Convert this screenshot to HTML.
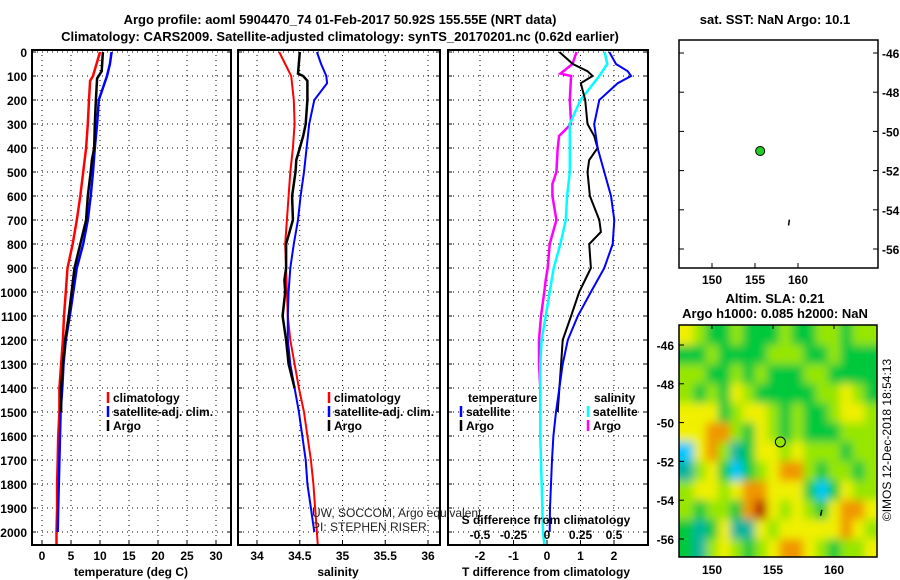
<!DOCTYPE html>
<html><head><meta charset="utf-8"><style>
body{margin:0;background:#fff}
svg{display:block;font-family:"Liberation Sans",sans-serif}
.t{font-weight:bold;font-size:13px}
.tk{font-weight:bold;font-size:12px}
.nb{font-size:12px;font-weight:normal}
</style></head><body>
<svg id="s" width="900" height="580" viewBox="0 0 900 580" xmlns="http://www.w3.org/2000/svg">
<defs>
<filter id="blur" x="-5%" y="-5%" width="110%" height="110%"><feGaussianBlur stdDeviation="4.5"/></filter>
<clipPath id="mapclip"><rect x="679" y="325" width="198" height="232"/></clipPath>
</defs>
<text class="t" x="340" y="24" text-anchor="middle">Argo profile: aoml 5904470_74 01-Feb-2017 50.92S 155.55E (NRT data)</text>
<text class="t" x="340" y="41" text-anchor="middle">Climatology: CARS2009. Satellite-adjusted climatology: synTS_20170201.nc (0.62d earlier)</text>
<g id="g"></g>
</svg>
<script>
// ---- data ----
const depthsTC=[0,100,120,200,300,400,500,600,700,800,900,1000,1100,1200,1300,1400,1500,1600,1700,1800,1900,2000,2050];
const tempClim=[10,8.8,8.3,8.1,7.9,7.6,7.1,6.6,6.0,5.3,4.4,4.1,3.8,3.6,3.3,3.0,3.0,2.8,2.7,2.6,2.6,2.5,2.5];
const depthsTA=[0,80,110,200,300,400,450,500,600,700,800,900,1000,1100,1200,1300,1400,1500];
const tempArgo=[10.5,10.3,9.5,9.3,9.1,9.0,8.6,8.4,7.9,7.6,6.6,5.6,5.1,4.6,4.0,3.6,3.3,3.3];
const depthsTS=[0,50,100,150,200,300,400,500,600,700,800,900,1000,1100,1200,1300,1400,1500,1600,1700,1800,1900,2000];
const tempSat=[12.0,11.7,11.2,10.5,9.8,9.5,9.1,8.8,8.4,7.9,7.1,6.0,5.4,4.8,4.1,3.7,3.5,3.2,3.1,3.0,2.9,2.8,2.7];
const depthsSC=[0,100,200,300,400,500,600,700,800,900,1000,1100,1200,1300,1400,1500,1600,1700,1800,1900,2000,2050];
const salClim=[34.26,34.40,34.43,34.44,34.42,34.39,34.37,34.35,34.33,34.34,34.35,34.36,34.39,34.44,34.49,34.55,34.59,34.63,34.66,34.68,34.70,34.71];
const depthsSA=[0,90,100,120,200,300,350,400,450,500,600,700,800,900,950,1000,1100,1200,1300,1400];
const salArgo=[34.50,34.48,34.54,34.59,34.59,34.57,34.54,34.50,34.46,34.45,34.41,34.42,34.34,34.34,34.32,34.33,34.30,34.34,34.37,34.44];
const depthsSS=[0,50,100,130,200,300,400,500,600,700,800,900,1000,1100,1200,1300,1400,1500,1600,1700,1800,1900,2000];
const salSat=[34.70,34.75,34.81,34.82,34.67,34.61,34.58,34.55,34.51,34.48,34.43,34.39,34.37,34.36,34.36,34.39,34.44,34.49,34.53,34.57,34.59,34.63,34.67];
const depthsDTA=[0,50,80,100,130,200,300,350,400,450,500,600,700,750,800,900,1000,1100,1200,1300,1400,1500];
const dTArgo=[0.37,0.77,1.21,1.36,1.01,1.14,1.21,1.41,1.51,1.26,1.21,1.28,1.56,1.61,1.26,1.31,0.96,0.72,0.47,0.42,0.37,0.32];
const depthsDTS=[0,50,80,100,130,200,300,400,500,600,700,800,900,1000,1100,1200,1300,1400,1500,1600,1700,1800,1900,2000];
const dTSat=[1.86,2.06,2.41,2.51,2.11,1.56,1.41,1.51,1.71,1.91,2.01,1.96,1.71,1.31,0.92,0.62,0.47,0.37,0.27,0.19,0.15,0.12,0.09,0.08];
const depthsDSS=[0,50,100,200,300,400,500,600,700,800,900,1000,1100,1200,1300,1400,1500,1600,2000,2050];
const dSSat=[0.43,0.45,0.39,0.25,0.17,0.17,0.17,0.15,0.14,0.10,0.05,0.02,-0.01,-0.04,-0.05,-0.05,-0.05,-0.05,-0.03,-0.02];
const depthsDSA=[0,50,90,100,200,300,350,400,500,550,600,700,800,900,950,1000,1100,1200,1300,1400,1500];
const dSArgo=[0.22,0.19,0.10,0.18,0.17,0.18,0.09,0.08,0.07,0.04,0.04,0.07,0.02,0.005,-0.01,-0.02,-0.045,-0.06,-0.06,-0.05,-0.05];
const depthTicks=[0,100,200,300,400,500,600,700,800,900,1000,1100,1200,1300,1400,1500,1600,1700,1800,1900,2000];
const tempTicks=[0,5,10,15,20,25,30];
const salTicks=[34,34.5,35,35.5,36];
const salTickLabels=["34","34.5","35","35.5","36"];
const dTTicks=[-2,-1,0,1,2];
const dSTicks=[-0.5,-0.25,0,0.25,0.5];
const dSTickLabels=["-0.5","-0.25","0","0.25","0.5"];
const latTicks=[-46,-48,-50,-52,-54,-56];
const lonTicks=[150,155,160];
const floatPos=[155.6,-51.0];
const trackPos=[[159.0,-54.5],[158.9,-54.8]];
const slaGrid=[
[4,3,2,2,3,2,2,2,3,2,2,3,3,2,3,3],
[2,2,3,2,2,2,2,3,3,3,2,2,3,2,2,2],
[3,3,2,2,3,2,3,2,2,2,3,3,2,2,2,2],
[3,2,3,2,4,3,2,2,2,2,2,3,3,4,3,2],
[4,4,4,2,3,4,4,3,2,3,2,2,3,4,4,3],
[4,4,5,5,3,2,4,3,2,3,2,2,2,3,3,3],
[0,4,5,3,1,2,4,4,3,4,3,3,3,2,3,3],
[1,3,4,2,0,2,3,4,5,5,3,2,3,3,2,3],
[3,4,4,3,4,5,5,4,4,4,2,0,2,4,3,3],
[3,2,3,3,2,5,6,4,3,4,3,2,4,5,5,4],
[2,1,2,4,1,1,4,3,4,4,4,4,4,5,4,3],
[2,1,3,4,3,2,3,4,5,5,4,3,2,3,3,4]];
const slaLats=[-45.5,-46.5,-47.5,-48.5,-49.5,-50.5,-51.5,-52.5,-53.5,-54.5,-55.5,-56.5];
const slaLons=[148,149,150,151,152,153,154,155,156,157,158,159,160,161,162,163];

// ---- drawing ----
const NS="http://www.w3.org/2000/svg";
const G=document.getElementById('g');
function el(tag,attrs,parent){const e=document.createElementNS(NS,tag);for(const k in attrs)e.setAttribute(k,attrs[k]);(parent||G).appendChild(e);return e;}
function txt(x,y,s,cls,anchor,parent){const e=el('text',{x:x,y:y,'class':cls||'tk','text-anchor':anchor||'middle'},parent);e.textContent=s;return e;}
const yD=d=>52+0.24*d;
const TOP=50,BOT=545;
const xT=v=>42+5.8*v;
const xS=v=>257+85.5*(v-34);
const xDT=v=>547+33.5*v;
const xDS=v=>547+134*v;
const panels=[{x0:32,x1:231,name:'temperature-panel'},{x0:238,x1:440,name:'salinity-panel'},{x0:448,x1:648,name:'difference-panel'}];

function grid(p,xs){
  const g=el('g',{});
  
  
  depthTicks.forEach(d=>{el('line',{x1:p.x0,x2:p.x1,y1:yD(d),y2:yD(d),stroke:'#000','stroke-dasharray':'1,4','stroke-width':1},g);
    el('line',{x1:p.x0,x2:p.x0+4,y1:yD(d),y2:yD(d),stroke:'#000'},g);el('line',{x1:p.x1-4,x2:p.x1,y1:yD(d),y2:yD(d),stroke:'#000'},g);});
  xs.forEach(x=>{el('line',{x1:x,x2:x,y1:TOP,y2:BOT,stroke:'#000','stroke-dasharray':'1,4','stroke-width':1},g);
    el('line',{x1:x,x2:x,y1:BOT-5,y2:BOT,stroke:'#000'},g);});
}
function frame(p){const r=el('rect',{x:p.x0,y:TOP,width:p.x1-p.x0,height:BOT-TOP,fill:'none',stroke:'#000','stroke-width':2});
  }
function line(ds,vs,fx,color,name,w){
  const pts=ds.map((d,i)=>fx(vs[i]).toFixed(1)+','+yD(d).toFixed(1)).join(' ');
  const l=el('polyline',{points:pts,fill:'none',stroke:color,'stroke-width':w||2.5,'stroke-linejoin':'miter'});
  
  
}
// panel 1
grid(panels[0],tempTicks.map(xT));
line(depthsTC,tempClim,xT,'#f00','temp-climatology-line');
line(depthsTS,tempSat,xT,'#00f','temp-satellite-line');
line(depthsTA,tempArgo,xT,'#000','temp-argo-line');
frame(panels[0]);
depthTicks.forEach(d=>{const t=txt(27,yD(d)+5,String(d),'tk','end');});
tempTicks.forEach(v=>{const t=txt(xT(v),560,String(v));});
let at=txt(131,576,'temperature (deg C)');
// panel 2
grid(panels[1],salTicks.map(xS));
line(depthsSC,salClim,xS,'#f00','sal-climatology-line',2);
line(depthsSS,salSat,xS,'#00f','sal-satellite-line',2);
line(depthsSA,salArgo,xS,'#000','sal-argo-line',2.5);
frame(panels[1]);
salTicks.forEach((v,i)=>{const t=txt(xS(v),560,salTickLabels[i]);});
at=txt(338,576,'salinity');
// panel 3
grid(panels[2],dTTicks.map(xDT));
line(depthsDSA,dSArgo,xDS,'#f0f','dsal-argo-line',2.5);
line(depthsDSS,dSSat,xDS,'#0ff','dsal-satellite-line',2.5);
line(depthsDTA,dTArgo,xDT,'#000','dtemp-argo-line',2);
line(depthsDTS,dTSat,xDT,'#00f','dtemp-satellite-line',2);
frame(panels[2]);
dTTicks.forEach(v=>{const t=txt(xDT(v),560,String(v));});
dSTicks.forEach((v,i)=>{const t=txt(xDS(v),539,dSTickLabels[i]);});
at=txt(546,524,'S difference from climatology');
at=txt(546,576,'T difference from climatology');

// legends
function legEntry(x,y,color,label,name){
  const g=el('g',{});
  el('line',{x1:x,x2:x,y1:y-10,y2:y+1,stroke:color,'stroke-width':2.5},g);
  const t=el('text',{x:x+5,y:y,'class':'tk','text-anchor':'start'},g);t.textContent=label;
}
legEntry(108,402,'#f00','climatology','legend-temp-climatology');
legEntry(108,416,'#00f','satellite-adj. clim.','legend-temp-satellite');
legEntry(108,430,'#000','Argo','legend-temp-argo');
legEntry(329,402,'#f00','climatology','legend-sal-climatology');
legEntry(329,416,'#00f','satellite-adj. clim.','legend-sal-satellite');
legEntry(329,430,'#000','Argo','legend-sal-argo');
at=txt(468,402,'temperature','tk','start');
legEntry(461,416,'#00f','satellite','legend-dtemp-satellite');
legEntry(461,430,'#000','Argo','legend-dtemp-argo');
at=txt(594,402,'salinity','tk','start');
legEntry(588,416,'#0ff','satellite','legend-dsal-satellite');
legEntry(588,430,'#f0f','Argo','legend-dsal-argo');
let c1=txt(312,517,'UW, SOCCOM, Argo equivalent','nb','start');c1.setAttribute('fill','#222');
c1=txt(312,531,'PI: STEPHEN RISER','nb','start');c1.setAttribute('fill','#222');

// top map
const m1={x0:679,x1:878,y0:40,y1:268};
const lon1=v=>712+8.6*(v-150);
const lat1=v=>53+19.6*(-46-v);
at=txt(775,24,'sat. SST: NaN Argo: 10.1','t');
let r=el('rect',{x:m1.x0,y:m1.y0,width:m1.x1-m1.x0,height:m1.y1-m1.y0,fill:'#fff',stroke:'#000','stroke-width':1.5});

latTicks.forEach(v=>{el('line',{x1:m1.x1-5,x2:m1.x1,y1:lat1(v),y2:lat1(v),stroke:'#000'});el('line',{x1:m1.x0,x2:m1.x0+5,y1:lat1(v),y2:lat1(v),stroke:'#000'});
  const t=txt(882,lat1(v)+5,String(v),'tk','start');});
lonTicks.forEach(v=>{el('line',{x1:lon1(v),x2:lon1(v),y1:m1.y1-5,y2:m1.y1,stroke:'#000'});
  const t=txt(lon1(v),284,String(v));});
let tr=el('polyline',{points:trackPos.map(p=>lon1(p[0])+','+lat1(p[1])).join(' '),stroke:'#000','stroke-width':1.5,fill:'none'});

let fp=el('circle',{cx:lon1(floatPos[0]),cy:lat1(floatPos[1]),r:4.5,fill:'#2c2',stroke:'#000','stroke-width':1});


// bottom map
const m2={x0:679,x1:877,y0:325,y1:557};
const lon2=v=>712+12.2*(v-150);
const lat2=v=>345+19.4*(-46-v);
at=txt(775,303,'Altim. SLA: 0.21','t');
at=txt(775,318,'Argo h1000: 0.085 h2000: NaN','t');
const pal=['#00c8ff','#00b4a0','#00c83c','#96e600','#f0f000','#f09600','#b41e00'];
const hm=el('g',{'clip-path':'url(#mapclip)'});

el('rect',{x:m2.x0,y:m2.y0,width:198,height:232,fill:'#96e600'},hm);
const hb=el('g',{filter:'url(#blur)'},hm);
slaGrid.forEach((row,i)=>row.forEach((v,j)=>{
  const x=lon2(slaLons[j]-0.5),y=lat2(slaLats[i]+0.5);
  const c=el('rect',{x:x-(j==0?20:0),y:y-(i==0?20:0),width:12.4+(j==0?20:0)+(j==row.length-1?20:0),height:19.6+(i==0?20:0)+(i==slaGrid.length-1?20:0),fill:pal[v]},hb);
  
  
}));
r=el('rect',{x:m2.x0,y:m2.y0,width:m2.x1-m2.x0,height:m2.y1-m2.y0,fill:'none',stroke:'#000','stroke-width':1.5});

latTicks.forEach(v=>{el('line',{x1:m2.x0,x2:m2.x0+5,y1:lat2(v),y2:lat2(v),stroke:'#000'});
  const t=txt(674,lat2(v)+5,String(v),'tk','end');});
lonTicks.forEach(v=>{el('line',{x1:lon2(v),x2:lon2(v),y1:m2.y0,y2:m2.y0+4,stroke:'#000'});
  const t=txt(lon2(v),574,String(v));});
tr=el('polyline',{points:trackPos.map(p=>lon2(p[0])+','+lat2(p[1])).join(' '),stroke:'#000','stroke-width':1.5,fill:'none'});

fp=el('circle',{cx:lon2(floatPos[0]),cy:lat2(floatPos[1]),r:5,fill:'#96e600',stroke:'#000','stroke-width':1});

let im=el('text',{x:0,y:0,'font-size':'12','text-anchor':'middle',transform:'translate(891,440) rotate(-90)'});
im.textContent='©IMOS 12-Dec-2018 18:54:13';

</script>
</body></html>
